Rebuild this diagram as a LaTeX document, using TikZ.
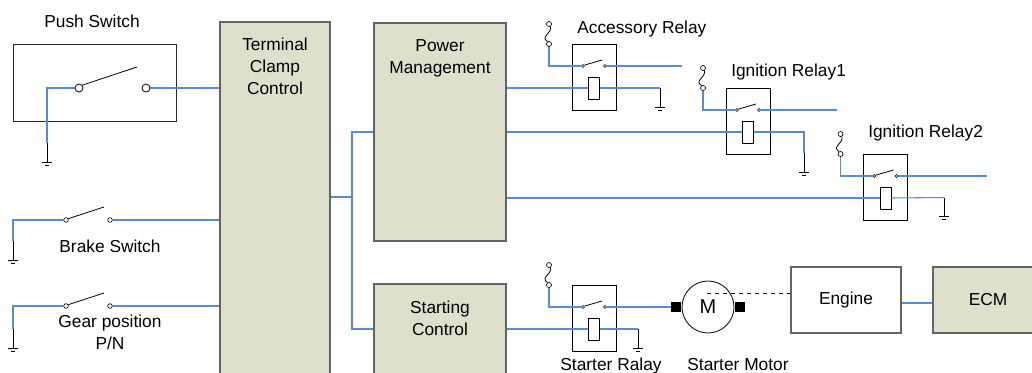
\documentclass[tikz,border=0pt]{standalone}
\usepackage{fontspec}
\setmainfont{Liberation Sans}
\usepackage{tikz}
\usetikzlibrary{positioning}
\definecolor{wireblue}{RGB}{90,138,208}
\definecolor{boxgreen}{RGB}{221,225,204}
\definecolor{boxgray}{RGB}{100,100,100}
\tikzstyle{block}=[rectangle,draw=boxgray,fill=boxgreen,line width=0.9pt,inner sep=0pt]
\tikzstyle{plainblock}=[rectangle,draw=boxgray,fill=white,line width=0.9pt,inner sep=0pt]
\tikzstyle{relaybox}=[rectangle,draw=black,fill=white,line width=0.6pt,minimum width=33pt,minimum height=49.5pt]
\tikzstyle{coil}=[rectangle,draw=black,fill=white,line width=0.6pt,minimum width=8.25pt,minimum height=16.5pt]
\tikzstyle{contact}=[circle,draw=black,fill=white,line width=0.5pt,minimum size=2.25pt]
\tikzstyle{swcontact}=[circle,draw=black,fill=white,line width=0.5pt,minimum size=3.5pt]
\tikzstyle{bigcontact}=[circle,draw=black,fill=white,line width=0.6pt,minimum size=6pt]
\tikzstyle{fuseend}=[circle,draw=black,line width=0.5pt,minimum size=3.75pt]
\tikzstyle{terminal}=[rectangle,fill=black,minimum width=7.5pt,minimum height=7.5pt]
\tikzstyle{wire}=[draw=wireblue,line width=0.8pt]
\tikzstyle{blade}=[draw=black,line width=0.6pt]
\tikzstyle{title}=[align=center]
% ground symbol below a coordinate
\newcommand{\earth}[1]{%
  \draw[blade] (#1) -- ++(0,19) ++(-5,0) -- ++(10,0) ++(-7,3) -- ++(4,0);}
% relay: name, x, y of its box
\newcommand{\relay}[3]{%
  \node[relaybox] (#1) at (#2,#3) {};
  \node[coil] (#1-coil) at (#2,#3+11) {};
  \node[contact] (#1-a) at (#2-11,#3-11) {};
  \node[contact] (#1-b) at (#2+11,#3-11) {};
  \draw[blade] (#1-a.30) -- (#2+8,#3-17);
  \node[fuseend] (#1-ft) at (#2-45,#3-53) {};
  \node[fuseend] (#1-fb) at (#2-45,#3-33) {};
  \draw[blade] (#1-ft.-60) .. controls +(2,7) and +(-8,-5) .. (#1-fb.120);
  \draw[wire] (#1-fb.south) |- (#1-a.west);}

\begin{document}
\begin{tikzpicture}[x=0.75pt,y=-0.75pt,inner sep=0pt,font=\fontsize{13}{16.5}\selectfont]
      \useasboundingbox (0,0) rectangle (1032,372);
      \clip (0,0) rectangle (1032,372);
      % control units
      \node [block,minimum width=82.5pt,minimum height=268.5pt] (tcc) at (275,201) {};
      \node [title,below=12.5pt of tcc.north] (tcctext) {Terminal\\Clamp\\Control};
      \node [block,minimum width=99pt,minimum height=163.5pt] (pm) at (440,132) {};
      \node [title,below=12.5pt of pm.north] (pmtext) {Power\\Management};
      \node [block,minimum width=99pt,minimum height=72pt] (sc) at (440,332) {};
      \node [title,below=13.25pt of sc.north] (sctext) {Starting\\Control};
      \node [plainblock,minimum width=82.5pt,minimum height=49.5pt] (engine) at (846,300) {Engine};
      \node [block,minimum width=82.5pt,minimum height=49.5pt] (ecm) at (988,300) {ECM};
      % switches
      \node (pushlabel) at (92,21) {Push Switch};
      \node [plainblock,draw=black!85,line width=0.7pt,minimum width=122.25pt,minimum height=57.75pt] (push) at (94.5,82.5) {};
      \node [bigcontact] (pushl) at (79,88) {};
      \node [bigcontact] (pushr) at (146,88) {};
      \draw [blade] (pushl.40) -- (137,67);
      \node [swcontact] (brakel) at (66,220) {};
      \node [swcontact] (braker) at (110,220) {};
      \draw [blade] (brakel.30) -- (104,207);
      \node (brakelabel) at (110,246) {Brake Switch};
      \node [swcontact] (gearl) at (66,306) {};
      \node [swcontact] (gearr) at (110,306) {};
      \draw [blade] (gearl.30) -- (104,293);
      \node [title] (gearlabel) at (110,332) {Gear position\\P/N};
      \coordinate (pushgnd) at (47,143);
      \coordinate (brakegnd) at (13,241);
      \coordinate (geargnd) at (13,329);
      \draw [wire] (pushl.west) -| (pushgnd);
      \draw [wire] (pushr.east) -- (pushr -| tcc.west);
      \draw [wire] (brakel.west) -| (brakegnd);
      \draw [wire] (braker.east) -- (braker -| tcc.west);
      \draw [wire] (gearl.west) -| (geargnd);
      \draw [wire] (gearr.east) -- (gearr -| tcc.west);
      \earth{pushgnd} \earth{brakegnd} \earth{geargnd}
      % relays
      \relay{accrelay}{594}{77}
      \relay{ignrelay1}{748}{121}
      \relay{ignrelay2}{885.5}{187}
      \relay{startrelay}{594}{318}
      \node [anchor=west] (acclabel) at (577,29) {Accessory Relay};
      \node [anchor=west] (ign1label) at (731,72) {Ignition Relay1};
      \node [anchor=west] (ign2label) at (868,133) {Ignition Relay2};
      \node (startlabel) at (611,366) {Starter Ralay};
      % starter motor
      \node [circle,draw,line width=0.6pt,minimum size=39pt,font=\fontsize{15}{17}\selectfont] (motor) at (708,307) {M};
      \node [terminal,left=0pt of motor.west] (mleft) {};
      \node [terminal,right=0pt of motor.east] (mright) {};
      \node (motorlabel) at (738,365) {Starter Motor};
      \coordinate (shaft) at (707,293.5);
      \draw [dashed,line width=0.6pt] (shaft) -- (engine.west |- shaft);
      \draw [wire] ([yshift=-2.25pt]engine.east) -- ([yshift=-2.25pt]ecm.west);
      % bus and outputs
      \coordinate (bus) at (352,197);
      \draw [wire] (tcc.east |- bus) -- (bus);
      \draw [wire] (pm.west) -| (bus) |- (sc.west |- startrelay-coil);
      \coordinate (accgnd) at (660,88);
      \coordinate (ign1gnd) at (804,153);
      \coordinate (ign2gnd) at (944,197.5);
      \coordinate (startgnd) at (638,329);
      \draw [wire] (pm.east |- accrelay-coil) -- (accrelay-coil.west);
      \draw [wire] (accrelay-coil.east) -- (accgnd);
      \draw [wire] (pm.east |- ignrelay1-coil) -- (ignrelay1-coil.west);
      \draw [wire] (ignrelay1-coil.east) -| (ign1gnd);
      \draw [wire] (pm.east |- ignrelay2-coil) -- (ignrelay2-coil.west);
      \draw [wire] (ignrelay2-coil.east) -- (ign2gnd);
      \draw [wire] (sc.east |- startrelay-coil) -- (startrelay-coil.west);
      \draw [wire] (startrelay-coil.east) -- (startgnd);
      \earth{accgnd} \earth{ign1gnd} \earth{ign2gnd} \earth{startgnd}
      \coordinate (accout) at (682,66);
      \coordinate (ign1out) at (837,110);
      \coordinate (ign2out) at (987,176);
      \draw [wire] (accrelay-b.east) -- (accout);
      \draw [wire] (ignrelay1-b.east) -- (ign1out);
      \draw [wire] (ignrelay2-b.east) -- (ign2out);
      \draw [wire] (startrelay-b.east) -- (mleft.west);
    \end{tikzpicture}
\end{document}
